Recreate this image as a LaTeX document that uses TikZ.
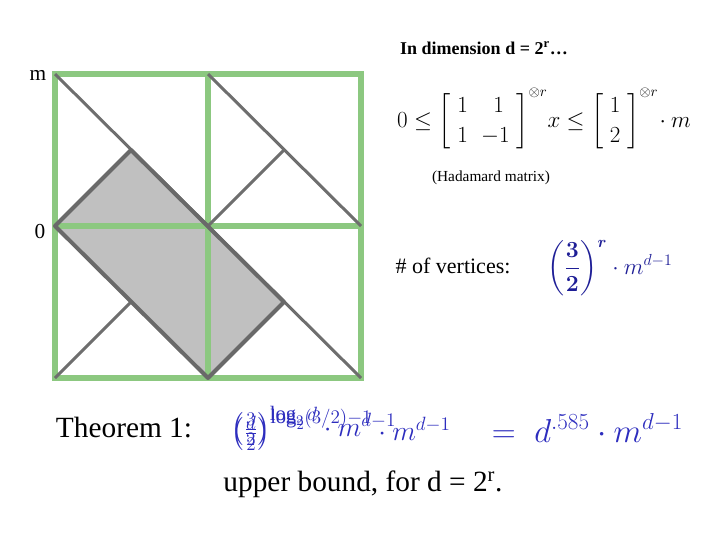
\documentclass[tikz,border=0pt]{standalone}
\usepackage{fontspec}
\usepackage{amsmath}
\setmainfont{Liberation Serif}
\tikzset{every picture/.style={line width=0.75pt}}
\tikzset{
  gridline/.style={color={rgb, 255:red, 140; green, 200; blue, 128 }, line width=4.5},
  diagline/.style={color={rgb, 255:red, 110; green, 110; blue, 110 }, line width=2.25},
  boxline/.style={color={rgb, 255:red, 105; green, 105; blue, 105 }, line width=3, line join=round},
  thmblue/.style={color={rgb, 255:red, 45; green, 45; blue, 190 }},
}

\begin{document}
\begin{tikzpicture}[x=0.75pt,y=0.75pt,yscale=-1,xscale=1]
\useasboundingbox (0,0) rectangle (720,540);

%Shape: Polygon (shaded box)
\fill [color={rgb, 255:red, 192; green, 192; blue, 192 }] (55,226) -- (131,150) -- (284,302) -- (208,378) -- cycle ;
%Shape: Rectangle (grid)
\draw [gridline] (55,74) -- (361,74) -- (361,378) -- (55,378) -- cycle ;
\draw [gridline] (208,74) -- (208,378) ;
\draw [gridline] (55,226) -- (361,226) ;
%Shape: Lines (diagonals)
\draw [diagline] (55,74) -- (361,378) ;
\draw [diagline] (208,74) -- (361,226) ;
\draw [diagline] (284,150) -- (208,226) ;
\draw [diagline] (55,378) -- (131,302) ;
%Shape: Polygon (box outline)
\draw [boxline] (55,226) -- (131,150) -- (284,302) -- (208,378) -- cycle ;

% Text Node
\draw (38,75) node (lblm) {\fontsize{16}{18}\selectfont m};
% Text Node
\draw (40,232) node (lblzero) {\fontsize{16}{18}\selectfont 0};
% Text Node
\draw (484,48) node (dimtext) {\fontsize{13.5}{15}\selectfont\bfseries In dimension d = 2\textsuperscript{r}\ldots};
% Text Node
\draw (544,120) node (ineq) {\fontsize{16}{19}\selectfont \renewcommand{\arraystretch}{1.2}$0\le\left[\begin{array}{cc}1 & \;1\\ 1 & -1\end{array}\right]^{\otimes r}\!x\le\left[\begin{array}{c}1\\ 2\end{array}\right]^{\otimes r}\!\cdot m$};
% Text Node
\draw (491,178) node (hadamard) {\fontsize{11.5}{13}\selectfont (Hadamard matrix)};
% Text Node
\draw (453,266) node (vertlbl) {\fontsize{16.5}{19}\selectfont \# of vertices:};
% Text Node
\draw (610,268) node (vertval) [color={rgb, 255:red, 30; green, 30; blue, 150 }] {\fontsize{17}{20}\selectfont $\boldsymbol{\left(\dfrac{3}{2}\right)^{r}}\cdot m^{d-1}$};
% Text Node
\draw (124,428) node (thmlbl) {\fontsize{22}{24}\selectfont Theorem 1:};
% Text Node
\draw (227,426) node (thma) [anchor=west, thmblue] {\fontsize{22}{24}\selectfont $\left(\frac{3}{2}\right)^{\log_2 d}\cdot m^{d-1}$};
% Text Node
\draw (227,430) node (thmb) [anchor=west, thmblue] {\fontsize{22}{24}\selectfont $\left(\frac{d}{2}\right)^{\log_2 (3/2)-1}\cdot m^{d-1}$};
% Text Node
\draw (487,428) node (thmeq) [anchor=west, thmblue] {\fontsize{23}{26}\selectfont $=\;d^{.585}\cdot m^{d-1}$};
% Text Node
\draw (363,484) node (upper) {\fontsize{22}{24}\selectfont upper bound, for d = 2\textsuperscript{r}.};

\end{tikzpicture}
\end{document}
